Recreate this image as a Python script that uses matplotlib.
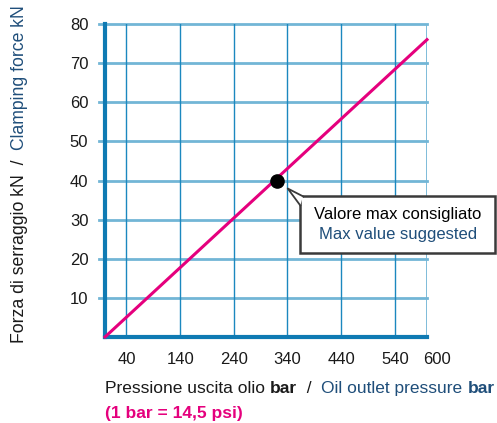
import matplotlib
matplotlib.use("Agg")
import matplotlib.pyplot as plt
from matplotlib.patches import Polygon, Rectangle
from matplotlib.lines import Line2D
from matplotlib.transforms import ScaledTranslation, Bbox

# data
pressure = [0, 600]          # bar
force = [0, 76]              # kN
max_point = (320, 40)        # suggested maximum
x_ticks = [40, 140, 240, 340, 440, 540, 600]
y_ticks = [10, 20, 30, 40, 50, 60, 70, 80]

plt.rcParams['font.family'] = 'Liberation Sans'
fs = 12

BLUE_TXT = '#1f4e7a'
MAGENTA = '#e5007d'
H_GRID = '#72b6d6'
V_GRID = '#1b88bf'
SPINE = '#0f7ab3'
BOX_EC = '#3a3a3a'

fig = plt.figure(figsize=(4.97, 4.23), dpi=100)
ax = fig.add_axes([105/497, (423-337)/423, (427-105)/497, (337-24)/423])

ax.set_xlim(0, 600)
ax.set_ylim(0, 80)

# grid
for y in y_ticks:
    ax.plot([-12, 600], [y, y], color=H_GRID, lw=2, clip_on=False, zorder=1)
for x in x_ticks[:-1]:
    ax.axvline(x, color=V_GRID, lw=1, zorder=1)
ax.axvline(600, color=H_GRID, lw=2, zorder=1)

for s in ['top', 'right']:
    ax.spines[s].set_visible(False)
for s in ['left', 'bottom']:
    ax.spines[s].set_color(SPINE)
    ax.spines[s].set_linewidth(3)

ax.set_xticks(x_ticks)
ax.set_yticks(y_ticks)
ax.tick_params(axis='both', length=0, labelsize=fs, colors='#1a1a1a')
ax.tick_params(axis='y', pad=12)
ax.tick_params(axis='x', pad=11)
last = ax.get_xticklabels()[-1]
last.set_transform(last.get_transform() + ScaledTranslation(0.1, 0, fig.dpi_scale_trans))

# characteristic line and marker
ax.plot(pressure, force, color=MAGENTA, lw=2.2, zorder=3, clip_on=False)
ax.plot(*max_point, 'o', color='black', ms=9.5, zorder=4)

# callout texts (box drawn around them afterwards)
t1 = fig.text(398/497, 1 - 214/423, 'Valore max consigliato', ha='center', va='center',
              fontsize=fs, color='black', zorder=9)
t2 = fig.text(398/497, 1 - 234/423, 'Max value suggested', ha='center', va='center',
              fontsize=fs, color=BLUE_TXT, zorder=9)

fig.canvas.draw()
r = fig.canvas.get_renderer()
inv = fig.transFigure.inverted()

bb = Bbox.union([t1.get_window_extent(r), t2.get_window_extent(r)])
x0, x1 = bb.x0 - 14, bb.x1 + 13
y0, y1 = bb.y0 - 12, bb.y1 + 10
fig.patches.append(Rectangle((x0, y0), x1 - x0, y1 - y0, fc='white', ec=BOX_EC, lw=1.8,
                             transform=None, zorder=6))

# pointer from the box corner to the marker
px, py = ax.transData.transform(max_point)
tip = (px + 11, py - 8)
a = (x0 + 3, y1)
b = (x0, y1 - 9)
fig.patches.append(Polygon([a, tip, b, (x0 + 2, y1 - 2)], closed=True, fc='white',
                           ec='none', transform=None, zorder=7))
fig.lines.append(Line2D([a[0], tip[0], b[0]], [a[1], tip[1], b[1]], color=BOX_EC, lw=1.3,
                        transform=None, zorder=8))

def run_h(parts, x0, y0, size):
    x = x0
    for txt, col, wt in parts:
        t = fig.text(x, y0, txt, color=col, fontweight=wt, fontsize=size, ha='left', va='center')
        ext = t.get_window_extent(r)
        x = inv.transform((ext.x1, ext.y0))[0]

def run_v(parts, x0, y0, size):
    y = y0
    for txt, col in parts:
        t = fig.text(x0, y, txt, color=col, fontsize=size, rotation=90, ha='center', va='bottom')
        ext = t.get_window_extent(r)
        y = inv.transform((ext.x0, ext.y1))[1]

run_h([('Pressione uscita olio ', '#1a1a1a', 'normal'), ('bar', '#1a1a1a', 'bold'),
       ('  /  ', '#1a1a1a', 'normal'), ('Oil outlet pressure ', BLUE_TXT, 'normal'),
       ('bar', BLUE_TXT, 'bold')], 105/497, 1 - 388/423, 12.5)
fig.text(105/497, 1 - 413/423, '(1 bar = 14,5 psi)', color=MAGENTA, fontweight='bold',
         fontsize=12.5, ha='left', va='center')

run_v([('Forza di serraggio kN  /  ', '#1a1a1a'), ('Clamping force kN', BLUE_TXT)],
      20/497, 1 - 343/423, 12.7)

fig.savefig('out.png', dpi=100)
